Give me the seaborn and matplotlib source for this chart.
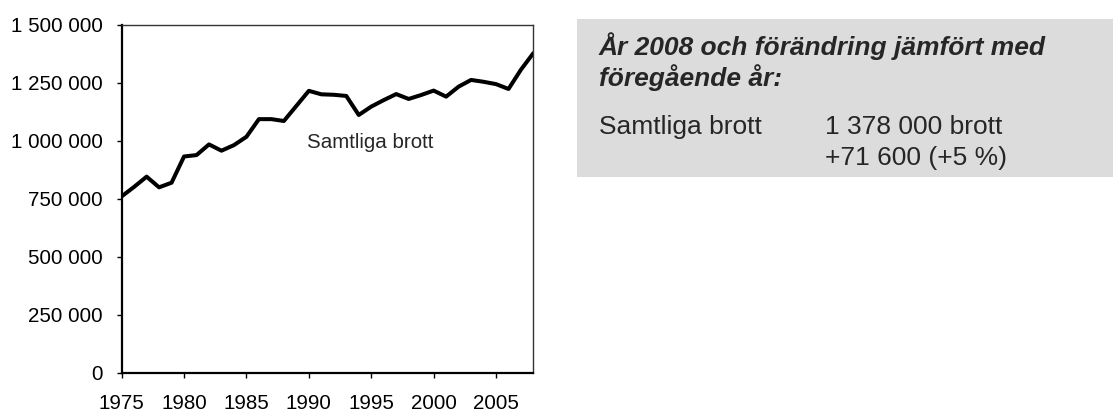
import matplotlib.pyplot as plt
import matplotlib.ticker as mticker
from matplotlib.patches import Rectangle
import numpy as np
import pandas as pd
import seaborn as sns

# reported offences per year
years = list(range(1975, 2009))
offences = [760000, 801000, 845000, 799000, 819000, 932000, 938000, 984000, 957000, 981000,
            1017000, 1093000, 1093000, 1085000, 1150000, 1215000, 1200000, 1198000, 1193000, 1111000,
            1147000, 1175000, 1201000, 1180000, 1197000, 1216000, 1190000, 1233000, 1262000, 1254000,
            1244000, 1223000, 1306400, 1378000]
series_label = 'Samtliga brott'
y_ticks = [0, 250000, 500000, 750000, 1000000, 1250000, 1500000]
x_ticks = [1975, 1980, 1985, 1990, 1995, 2000, 2005]

box_title = ['År 2008 och förändring jämfört med', 'föregående år:']
box_name = 'Samtliga brott'
box_lines = ['1 378 000 brott', '+71 600 (+5 %)']

df = pd.DataFrame({'year': years, 'offences': offences})

sns.set_style('ticks')
plt.rcParams['font.family'] = ['Liberation Sans', 'DejaVu Sans']
fs = 14.8
fs_box = 19

fig = plt.figure(figsize=(11.13, 4.12), dpi=100)
ax = fig.add_axes([0.1093, 0.0954, 0.37, 0.8446])

sns.lineplot(data=df, x='year', y='offences', ax=ax, color='black', linewidth=2.9)
ax.set_xlim(1975, 2008)
ax.set_ylim(0, 1500000)
ax.set_xticks(x_ticks)
ax.set_yticks(y_ticks)
ax.yaxis.set_major_formatter(mticker.FuncFormatter(lambda v, p: f'{int(v):,}'.replace(',', ' ')))
ax.set_xlabel('')
ax.set_ylabel('')
ax.tick_params(axis='both', labelsize=fs, colors='black', length=3.5, width=1)
ax.tick_params(axis='y', pad=10)
ax.tick_params(axis='x', pad=12)
for s in ['left', 'bottom']:
    ax.spines[s].set_linewidth(1.6)
    ax.spines[s].set_color('black')
for s in ['top', 'right']:
    ax.spines[s].set_visible(True)
    ax.spines[s].set_linewidth(1)
    ax.spines[s].set_color('#333333')

ax.text(1989.85, 967000, series_label, fontsize=fs, ha='left', va='baseline')

# summary box on the right
fig.patches.append(Rectangle((577 / 1113, 1 - 176.7 / 412), 1 - 577 / 1113, 157.4 / 412,
                             transform=fig.transFigure, facecolor='#dcdcdc', edgecolor='none'))
fig.text(599 / 1113, 1 - 55 / 412, box_title[0], fontsize=fs_box, fontweight='bold', fontstyle='italic', va='baseline')
fig.text(599 / 1113, 1 - 86 / 412, box_title[1], fontsize=fs_box, fontweight='bold', fontstyle='italic', va='baseline')
fig.text(599 / 1113, 1 - 134 / 412, box_name, fontsize=fs_box, va='baseline')
fig.text(825 / 1113, 1 - 134 / 412, box_lines[0], fontsize=fs_box, va='baseline')
fig.text(825 / 1113, 1 - 165 / 412, box_lines[1], fontsize=fs_box, va='baseline')

fig.savefig('out.png', dpi=100)
